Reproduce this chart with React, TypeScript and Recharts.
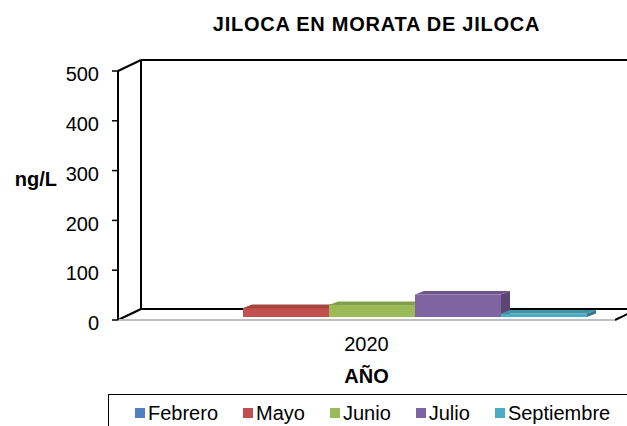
import React from 'react';
import {
    BarChart,
    Bar,
    XAxis,
    YAxis,
    ReferenceArea,
    Label
} from 'recharts';

const years = ['2020'];
const months = ['Febrero', 'Mayo', 'Junio', 'Julio', 'Septiembre'];
const monthColors = ['#4F81BD', '#C0504D', '#9BBB59', '#8064A2', '#4BACC6'];
const febrero = [0];
const mayo = [18];
const junio = [24];
const julio = [45];
const septiembre = [7];
const yTicks = [0, 100, 200, 300, 400, 500];

const seriesValues = [febrero, mayo, junio, julio, septiembre];

const data = years.map((year, i) => {
    const row: Record<string, string | number> = { year };
    months.forEach((m, j) => {
        row[m] = seriesValues[j][i];
    });
    return row;
});

const FONT = '"Liberation Sans", Arial, sans-serif';
// depth of the 3D box and of the bars
const DX = 23;
const DY = -11;
const BDX = 9;
const BDY = -3.5;

const shade = (hex: string, k: number) => {
    const n = parseInt(hex.slice(1), 16);
    const r = Math.round(((n >> 16) & 255) * k);
    const g = Math.round(((n >> 8) & 255) * k);
    const b = Math.round((n & 255) * k);
    return `rgb(${r},${g},${b})`;
};

const Bar3D = (props: any) => {
    const { x, y, width, height, fill } = props;
    if (!height || height <= 0) return null;
    const fx = x + 6;
    const fy = y - 3;
    const w = width;
    const h = height;
    return (
        <g>
            <rect x={fx} y={fy} width={w} height={h} fill={fill} />
            <polygon
                points={`${fx},${fy} ${fx + BDX},${fy + BDY} ${fx + w + BDX},${fy + BDY} ${fx + w},${fy}`}
                fill={shade(fill, 0.85)}
            />
            <polygon
                points={`${fx + w},${fy} ${fx + w + BDX},${fy + BDY} ${fx + w + BDX},${fy + h + BDY} ${fx + w},${fy + h}`}
                fill={shade(fill, 0.7)}
            />
        </g>
    );
};

const Frame3D = (props: any) => {
    const { x, y, width, height } = props;
    const bx = x + DX;
    const top = y + DY;
    const floor = y + height;
    const far = x + width + 40;
    return (
        <g stroke="#000" strokeWidth={2} fill="none">
            <line x1={bx} y1={top} x2={bx} y2={floor + DY} />
            <line x1={x} y1={y} x2={bx} y2={top} />
            <line x1={bx} y1={top} x2={far} y2={top} />
            <line x1={x} y1={floor} x2={bx} y2={floor + DY} />
            <line x1={bx} y1={floor + DY} x2={far} y2={floor + DY} />
            <line x1={x + width} y1={floor} x2={x + width + DX} y2={floor + DY} />
            <line x1={x} y1={floor} x2={x + width} y2={floor} stroke="#BFBFBF" />
        </g>
    );
};

const App: React.FC = () => {
    return (
        <div
            style={{
                position: 'absolute',
                left: 0,
                top: 0,
                width: 627,
                height: 426,
                overflow: 'hidden',
                background: '#fff',
                fontFamily: FONT
            }}
        >
            <div
                style={{
                    position: 'absolute',
                    top: 12,
                    left: 0,
                    width: 753,
                    textAlign: 'center',
                    fontWeight: 'bold',
                    fontSize: 20,
                    letterSpacing: 0.75,
                    lineHeight: '24px',
                    color: '#000'
                }}
            >
                JILOCA EN MORATA DE JILOCA
            </div>
            <BarChart
                width={627}
                height={426}
                data={data}
                margin={{ top: 71, right: 12, left: 58, bottom: 76 }}
                barGap={0}
                barCategoryGap={33}
            >
                <ReferenceArea y1={0} y2={500} shape={<Frame3D />} />
                <XAxis
                    dataKey="year"
                    axisLine={false}
                    tickLine={false}
                    tickSize={6}
                    tickMargin={11}
                    height={30}
                    tick={{ fill: '#000', fontSize: 20, fontFamily: FONT }}
                >
                    <Label
                        content={(p: any) => {
                            const vb = p.viewBox;
                            return (
                                <text
                                    x={vb.x + vb.width / 2}
                                    y={vb.y + 63}
                                    textAnchor="middle"
                                    fontWeight="bold"
                                    fontSize={20}
                                    fontFamily={FONT}
                                    fill="#000"
                                >
                                    AÑO
                                </text>
                            );
                        }}
                    />
                </XAxis>
                <YAxis
                    domain={[0, 500]}
                    ticks={yTicks}
                    width={60}
                    axisLine={{ stroke: '#000', strokeWidth: 2 }}
                    tickLine={{ stroke: '#000', strokeWidth: 1.5 }}
                    tickSize={6}
                    tickMargin={13}
                    tick={{ fill: '#000', fontSize: 20, fontFamily: FONT, dy: 3 }}
                >
                    <Label
                        content={(p: any) => {
                            const vb = p.viewBox;
                            return (
                                <text
                                    x={vb.x - 1}
                                    y={vb.y + 115}
                                    textAnchor="end"
                                    fontWeight="bold"
                                    fontSize={20}
                                    fontFamily={FONT}
                                    fill="#000"
                                >
                                    ng/L
                                </text>
                            );
                        }}
                    />
                </YAxis>
                {months.map((m, i) => (
                    <Bar
                        key={m}
                        dataKey={m}
                        fill={monthColors[i]}
                        shape={<Bar3D />}
                        isAnimationActive={false}
                    />
                ))}
            </BarChart>
            <div
                style={{
                    position: 'absolute',
                    left: 108,
                    top: 394,
                    width: 560,
                    height: 40,
                    border: '1px solid #000',
                    boxSizing: 'border-box',
                    display: 'flex',
                    alignItems: 'flex-start',
                    paddingLeft: 26,
                    paddingTop: 6,
                    fontSize: 20,
                    color: '#000'
                }}
            >
                {months.map((m, i) => (
                    <div key={m} style={{ display: 'flex', alignItems: 'center', marginRight: 25, lineHeight: '24px' }}>
                        <span
                            style={{
                                display: 'inline-block',
                                width: 10,
                                height: 10,
                                background: monthColors[i],
                                marginRight: 3
                            }}
                        />
                        <span>{m}</span>
                    </div>
                ))}
            </div>
        </div>
    );
};

export default App;
